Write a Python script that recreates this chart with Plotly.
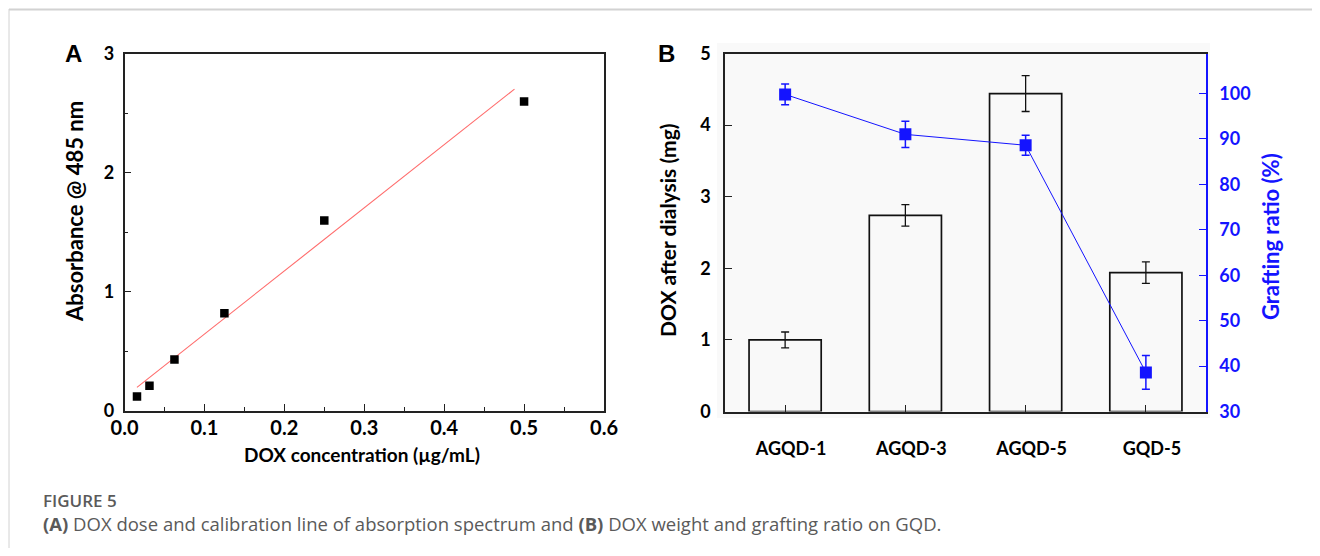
import plotly.graph_objects as go

# page body has an 8px margin; size the figure to fit the 1320x556 window
OFF = 8
W, H = 1320 - 2 * OFF, 556 - 2 * OFF

# ---------------- Data ----------------
# Panel A: calibration
conc = [0.015625, 0.03125, 0.0625, 0.125, 0.25, 0.5]
absorbance = [0.12, 0.21, 0.43, 0.82, 1.60, 2.60]
fit_x = [0.0156, 0.488]
fit_y = [0.196, 2.705]

# Panel B: DOX after dialysis and grafting ratio
samples = ["AGQD-1", "AGQD-3", "AGQD-5", "GQD-5"]
dox_mg = [1.00, 2.74, 4.44, 1.94]
dox_err = [0.11, 0.15, 0.25, 0.15]
graft_pct = [99.8, 91.0, 88.6, 38.6]
graft_err = [2.3, 2.9, 2.2, 3.7]

a_xticks = [0.0, 0.1, 0.2, 0.3, 0.4, 0.5, 0.6]
a_yticks = [0, 1, 2, 3]
b_yticks = [0, 1, 2, 3, 4, 5]
b_y2ticks = [30, 40, 50, 60, 70, 80, 90, 100]

FONT = "Lato"
BLUE = "#1414ff"

def fx(p):
    return (p - OFF) / W

def fy(p):
    return 1 - (p - OFF) / H

fig = go.Figure()

# Panel A
fig.add_trace(go.Scatter(x=fit_x, y=fit_y, mode="lines",
                         line=dict(color="#ff6a6a", width=1.1),
                         xaxis="x", yaxis="y", showlegend=False))
fig.add_trace(go.Scatter(x=conc, y=absorbance, mode="markers",
                         marker=dict(symbol="square", size=8.5, color="black"),
                         xaxis="x", yaxis="y", showlegend=False))

# Panel B bars
fig.add_trace(go.Bar(x=samples, y=dox_mg, width=0.6,
                     marker=dict(color="rgba(0,0,0,0)",
                                 line=dict(color="#111111", width=1.7)),
                     error_y=dict(type="data", array=dox_err, color="#111111",
                                  thickness=1.3, width=4),
                     xaxis="x2", yaxis="y2", showlegend=False))
# Panel B grafting ratio
fig.add_trace(go.Scatter(x=samples, y=graft_pct, mode="lines+markers",
                         line=dict(color=BLUE, width=1),
                         marker=dict(symbol="square", size=12, color=BLUE),
                         error_y=dict(type="data", array=graft_err, color=BLUE,
                                      thickness=1.5, width=4),
                         xaxis="x2", yaxis="y3", showlegend=False))

axis_common = dict(showgrid=False, zeroline=False, showline=True,
                   linecolor="#222222", linewidth=1.5, ticks="inside",
                   tickcolor="#222222", tickwidth=1.3, ticklen=7,
                   automargin=False)

tick_font_a_x = dict(family=FONT, size=20, color="black", weight="bold")
tick_font = dict(family=FONT, size=18, color="black", weight="bold")

fig.update_layout(
    template="none",
    width=W, height=H, autosize=False,
    margin=dict(l=0, r=0, t=0, b=0, pad=0),
    paper_bgcolor="white", plot_bgcolor="rgba(0,0,0,0)",
    xaxis=dict(**axis_common, domain=[fx(124.5), fx(604)], range=[0, 0.6],
               tickvals=a_xticks, tickformat=".1f", mirror=True,
               tickfont=tick_font_a_x, ticklabelstandoff=-1,
               minor=dict(ticks="inside", dtick=0.05, ticklen=4,
                          tickcolor="#222222", tickwidth=1.2),
               anchor="y"),
    yaxis=dict(**axis_common, domain=[fy(410.7), fy(54)], range=[0, 3],
               tickvals=a_yticks, mirror=True, tickfont=tick_font,
               ticklabelstandoff=5,
               minor=dict(ticks="inside", dtick=0.5, ticklen=4,
                          tickcolor="#222222", tickwidth=1.2),
               anchor="x"),
    xaxis2=dict(**axis_common, domain=[fx(725), fx(1206)], range=[-0.5, 3.5],
                type="category", mirror=True, tickfont=tick_font,
                ticklabelstandoff=20, ticklabelshift=6, anchor="y2"),
    yaxis2=dict(**axis_common, domain=[fy(411.5), fy(53.5)], range=[0, 5],
                tickvals=b_yticks, tickfont=tick_font, ticklabelstandoff=9,
                anchor="x2"),
    yaxis3=dict(showgrid=False, zeroline=False, showline=True,
                linecolor=BLUE, linewidth=1.5, ticks="inside",
                tickcolor=BLUE, tickwidth=1.3, ticklen=7, automargin=False,
                overlaying="y2", side="right", anchor="x2",
                range=[30, 108.8], tickvals=b_y2ticks,
                tickfont=dict(family=FONT, size=18, color=BLUE, weight="bold"),
                ticklabelstandoff=8),
)

shapes = [
    # light panel background for B
    dict(type="rect", xref="paper", yref="paper", x0=fx(717), x1=fx(1210),
         y0=fy(418), y1=fy(43), fillcolor="#f9f9f9", line=dict(width=0),
         layer="below"),
    # card border
    dict(type="line", xref="paper", yref="paper", x0=fx(9), x1=1,
         y0=fy(9.5), y1=fy(9.5), line=dict(color="#d2d2d2", width=2)),
    dict(type="line", xref="paper", yref="paper", x0=fx(9), x1=fx(9),
         y0=0, y1=fy(9), line=dict(color="#d2d2d2", width=1)),
]
fig.update_layout(shapes=shapes)

def ann(text, x, y, font, angle=0, xanchor="center"):
    return dict(text=text, x=fx(x), y=fy(y), xref="paper", yref="paper",
                xanchor=xanchor, yanchor="middle", showarrow=False,
                textangle=angle, font=font)

annotations = [
    ann("A", 73, 54, dict(family="Liberation Sans", size=24, color="black",
                          weight="bold")),
    ann("B", 666.5, 53.5, dict(family="Liberation Sans", size=24,
                               color="black", weight="bold")),
    ann("Absorbance @ 485 nm", 74, 212, dict(family=FONT, size=22,
                                             color="black", weight="bold"),
        angle=-90),
    ann("DOX concentration (µg/mL)", 362, 454,
        dict(family=FONT, size=19, color="black", weight="bold")),
    ann("DOX after dialysis (mg)", 667, 230,
        dict(family=FONT, size=21, color="black", weight="bold"), angle=-90),
    ann("Grafting ratio (%)", 1270, 237,
        dict(family=FONT, size=22, color=BLUE, weight="bold"), angle=-90),
    ann("FIGURE 5", 41, 500,
        dict(family="Open Sans", size=17, color="#5a5a5a", weight=600),
        xanchor="left"),
    ann("<b>(A)</b> DOX dose and calibration line of absorption spectrum and "
        "<b>(B)</b> DOX weight and grafting ratio on GQD.", 41, 523,
        dict(family="Open Sans", size=18.5, color="#5a5a5a"), xanchor="left"),
]
fig.update_layout(annotations=annotations)

fig.write_html("out.html")
